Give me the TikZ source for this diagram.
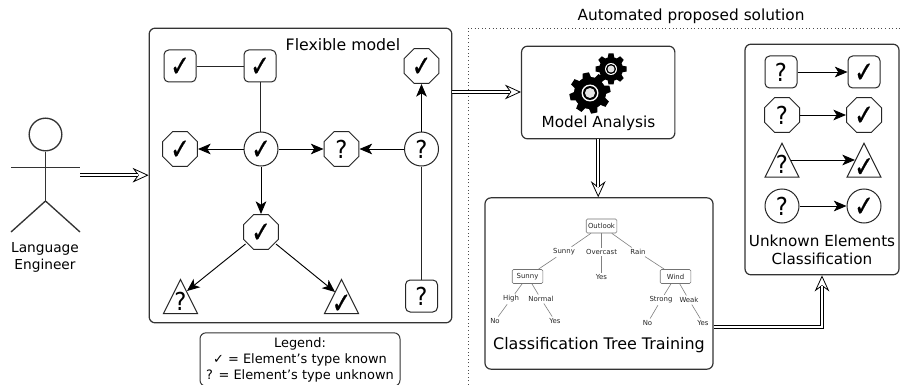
\documentclass[tikz,border=0pt]{standalone}
\usepackage{fontspec}
\setmainfont{DejaVu Sans}
\usepackage{graphicx}
\usetikzlibrary{arrows.meta,shapes.geometric,calc}
\newfontfamily\ckfont[FakeBold=1.0]{DejaVu Sans}
\newcommand{\ck}{\raisebox{-7.6pt}[0pt][0pt]{\makebox[0pt]{\fontsize{22pt}{24pt}\ckfont\scalebox{0.78}[1]{✓}}}}
\newcommand{\qm}{\raisebox{-6.9pt}[0pt][0pt]{\makebox[0pt]{\fontsize{18.5pt}{20pt}\selectfont\scalebox{0.92}[1]{?}}}}
\newcommand{\qmt}{\raisebox{-5.4pt}[0pt][0pt]{\makebox[0pt]{\fontsize{18.5pt}{20pt}\selectfont\scalebox{0.92}[1]{?}}}}
\newcommand{\bigtip}[2]{%
  \draw[bigtipstyle] ($(#2)!9pt!(#1)$) -- (#2);
  }
\tikzset{
  ln/.style={draw=black!85,line width=0.75pt},
  panel/.style={draw=black!80,line width=0.9pt,rounded corners=4.5pt,fill=white},
  sq/.style={ln,rounded corners=3.5pt,minimum size=24pt,inner sep=0pt,fill=white},
  circ/.style={ln,circle,minimum size=25.5pt,inner sep=0pt,fill=white},
  oct/.style={ln,regular polygon,regular polygon sides=8,minimum size=28.4pt,inner sep=0pt,fill=white},
  tri/.style={ln,isosceles triangle,isosceles triangle stretches=true,shape border rotate=90,minimum height=25.5pt,minimum width=25.5pt,inner sep=0pt,fill=white},
  rel/.style={draw=black,line width=0.7pt,-{Stealth[length=9.5pt,width=8pt,inset=2.5pt]}},
  plain/.style={draw=black!85,line width=0.7pt},
  bigtipstyle/.style={draw=black,line width=0.6pt,-{Stealth[open,fill=white,length=12pt,width=11pt,inset=4pt,line width=0.6pt]}},
  bigplain/.style={draw=black,line width=0.6pt,double=white,double distance=1.6pt,shorten >=8pt},
  lbl/.style={font=\fontsize{11.8pt}{13pt}\selectfont,inner sep=0pt},
  tbox/.style={draw=black!55,line width=0.5pt,rounded corners=1pt,minimum width=23pt,minimum height=10.5pt,inner sep=0pt,font=\fontsize{5.2pt}{5.5pt}\selectfont,text=black!85},
  tlab/.style={inner sep=1.2pt,font=\fontsize{5.2pt}{5.5pt}\selectfont,text=black!85},
  tedge/.style={draw=black!50,line width=0.45pt},
  actor/.style={draw=black!80,line width=1pt},
  x=0.75pt,y=-0.75pt
}
\begin{document}
\begin{tikzpicture}
\useasboundingbox (0,0) rectangle (903,385);
\clip (0,0) rectangle (903,385);
\fill[white] (0,0) rectangle (903,385);

% actor
\coordinate (hip) at (45.5,201);
\coordinate (armL) at (11,167.5);
\coordinate (armR) at (80,167.5);
\coordinate (footL) at (11,232);
\coordinate (footR) at (80,232);
\node[actor,circle,minimum size=24.5pt,inner sep=0pt] (head) at (45.5,134.5) {};
\draw[actor] (head) -- (hip);
\draw[actor] (armL) -- (armR);
\draw[actor] (footL) -- (hip) -- (footR);
\node[inner sep=0pt,align=center,font=\fontsize{10.3pt}{12.8pt}\selectfont] (eng) at (45,257.5) {Language\\Engineer};

% main panel
\node[panel,minimum width=227pt,minimum height=221pt,inner sep=0pt] (model) at (300.5,175.5) {};
\node[lbl] (modeltitle) at (343,44.5) {Flexible model};

\node[sq] (a1) at (180,66) {\ck};
\node[sq] (a2) at (260,66) {\ck};
\node[oct] (a3) at (421.5,66) {\ck};
\node[oct] (b1) at (180,149) {\ck};
\node[circ] (b2) at (261,149) {\ck};
\node[oct] (b3) at (341.5,149) {\qm};
\node[circ] (b4) at (421.5,149) {\qm};
\node[oct] (c1) at (261,232) {\ck};
\node[tri] (d1) at (180.5,303) {\qmt};
\node[tri] (d2) at (341.5,303) {\ck};
\node[sq] (d3) at (421.5,296) {\qm};

\draw[plain] (a1) -- (a2);
\draw[plain] (a2) -- (a2 |- b2.north);
\draw[rel] (b2) -- (b1);
\draw[rel] (b2) -- (b3);
\draw[rel] (b4) -- (b3);
\draw[rel] (b4) -- (a3);
\draw[plain] (d3) -- (b4);
\draw[rel] (b2) -- (c1);
\draw[rel] ($(c1.center)+(-15.5,12)$) -- ($(d1.center)+(6.5,-12)$);
\draw[rel] ($(c1.center)+(15,12)$) -- ($(d2.center)+(-6.5,-11)$);

% legend
\node[panel,line width=0.75pt,minimum width=150pt,minimum height=40pt,inner sep=0pt] (legend) at (300,359.5) {};
\node[inner sep=0pt,align=center,font=\fontsize{9.7pt}{12pt}\selectfont] (legendtext) at (300,359.5) {Legend:\\✓ = Element's type known\\? = Element's type unknown};

% dotted frame
\coordinate (dA) at (468,385);
\coordinate (dB) at (468,28);
\coordinate (dC) at (903,28);
\draw[draw=black!70,line width=0.7pt,dotted] (dA) -- (dB) -- (dC);
\node[lbl,font=\fontsize{11.5pt}{13pt}\selectfont] (autotitle) at (691,16) {Automated proposed solution};

% model analysis
\node[panel,minimum width=115pt,minimum height=69.5pt,inner sep=0pt] (ma) at (598.2,92.5) {};
\node[lbl,font=\fontsize{11.45pt}{13pt}\selectfont] (matext) at (598.5,123) {Model Analysis};
\begin{scope}[shift={(590,93)}]
  \foreach \a in {0,45,...,315}
    \fill[black,rotate=\a+12] (-4.5,-14) -- (-3.2,-20.5) -- (3.2,-20.5) -- (4.5,-14) -- cycle;
  \fill[black] (0,0) circle[radius=16];
  \fill[white] (0,0) circle[radius=8.5];
  \fill[black] (0,0) circle[radius=7];
  \fill[white!90!black] (0,0) circle[radius=5];
\end{scope}
\begin{scope}[shift={(611,69)}]
  \foreach \a in {0,45,...,315}
    \fill[black,rotate=\a] (-3.5,-10.5) -- (-2.5,-15.5) -- (2.5,-15.5) -- (3.5,-10.5) -- cycle;
  \fill[black] (0,0) circle[radius=12];
  \fill[white] (0,0) circle[radius=6];
  \fill[black] (0,0) circle[radius=5];
  \fill[white!90!black] (0,0) circle[radius=3.5];
\end{scope}

% classification tree panel
\node[panel,minimum width=171pt,minimum height=128.5pt,inner sep=0pt] (ct) at (599,283.5) {};
\node[lbl,font=\fontsize{11.95pt}{14pt}\selectfont] (cttext) at (599,345) {Classification Tree Training};

\node[tbox] (outlook) at (601.5,226) {Outlook};
\node[tbox] (sunny) at (527.5,276.5) {Sunny};
\node[tbox] (wind) at (675.5,276.5) {Wind};
\node[tlab] (l1) at (564,252) {Sunny};
\node[tlab] (l2) at (601.5,252) {Overcast};
\node[tlab] (l3) at (638,252) {Rain};
\node[tlab] (y1) at (601.5,277) {Yes};
\node[tlab] (h) at (511,299) {High};
\node[tlab] (n) at (541,299) {Normal};
\node[tlab] (no1) at (495,321) {No};
\node[tlab] (y2) at (555,321) {Yes};
\node[tlab] (s) at (661,300) {Strong};
\node[tlab] (w) at (689,300) {Weak};
\node[tlab] (no2) at (647.5,323) {No};
\node[tlab] (y3) at (703,323) {Yes};
\draw[tedge] (outlook) -- (l1) -- (sunny);
\draw[tedge] (outlook) -- (l2) -- (y1);
\draw[tedge] (outlook) -- (l3) -- (wind);
\draw[tedge] (sunny) -- (h) -- (no1);
\draw[tedge] (sunny) -- (n) -- (y2);
\draw[tedge] (wind) -- (s) -- (no2);
\draw[tedge] (wind) -- (w) -- (y3);

% unknown elements panel
\node[panel,minimum width=115.5pt,minimum height=173pt,inner sep=0pt] (ue) at (822,159.5) {};
\node[sq] (e1) at (781,72) {\qm};
\node[sq] (e2) at (864,72) {\ck};
\node[oct] (f1) at (782,115) {\qm};
\node[oct] (f2) at (864,115) {\ck};
\node[tri] (g1) at (782,166.7) {\qmt};
\node[tri] (g2) at (864,166.7) {\ck};
\node[circ] (h1) at (782,206) {\qm};
\node[circ] (h2) at (864,206) {\ck};
\draw[rel] (e1) -- (e2);
\draw[rel] (f1) -- (f2);
\draw[rel] ($(g1.center)+(8.5,-6.7)$) -- ($(g2.center)+(-9,-6.7)$);
\draw[rel] (h1) -- (h2);
\node[inner sep=0pt,align=center,font=\fontsize{11.4pt}{13.5pt}\selectfont] (uetext) at (822,250) {Unknown Elements\\Classification};

% big arrows
\coordinate (s1) at (80,175.2);
\coordinate (e1a) at (model.west |- s1);
\bigtip{s1}{e1a}
\draw[bigplain] (s1) -- (e1a);
\coordinate (s2) at (model.east |- 0,92);
\coordinate (e2a) at (ma.west |- s2);
\bigtip{s2}{e2a}
\draw[bigplain] (s2) -- (e2a);
\bigtip{ma.south}{ma.south |- ct.north}
\draw[bigplain] (ma.south) -- (ma.south |- ct.north);
\coordinate (turn) at (822,327);
\bigtip{turn}{ue.south}
\draw[bigplain] (ct.east |- turn) -- (turn) -- (ue.south);
\end{tikzpicture}
\end{document}
